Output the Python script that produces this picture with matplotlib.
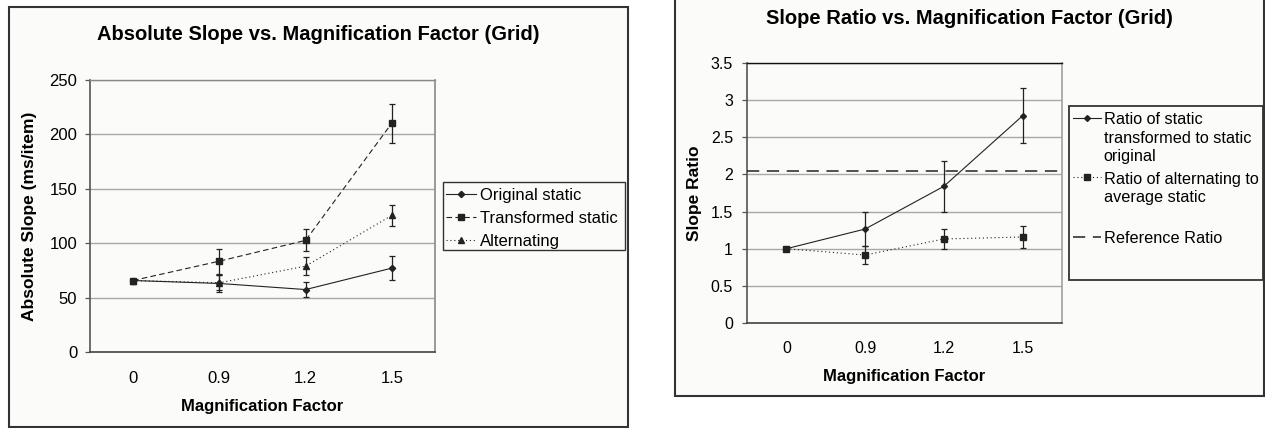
import matplotlib
matplotlib.use("Agg")
import matplotlib.pyplot as plt
from matplotlib.patches import Rectangle

plt.rcParams['font.family'] = ['Liberation Sans', 'DejaVu Sans']

# ---------------- data ----------------
x_labels = ['0', '0.9', '1.2', '1.5']

orig_static = [65.7, 63.0, 57.4, 77.1]
orig_err = [0, 7.8, 6.7, 10.8]
trans_static = [65.7, 83.5, 102.6, 210.4]
trans_err = [0, 11.4, 10.0, 18.0]
alternating = [65.7, 63.6, 78.9, 125.6]
alt_err = [0, 7.0, 8.3, 9.6]

ratio_static = [1.0, 1.265, 1.84, 2.79]
ratio_static_err = [0, 0.235, 0.343, 0.372]
ratio_alt = [1.0, 0.915, 1.131, 1.158]
ratio_alt_err = [0, 0.119, 0.139, 0.142]
reference_ratio = 2.05

# ---------------- layout ----------------
W, H = 1265, 428
fig = plt.figure(figsize=(W / 100, H / 100), dpi=100)
fig.patch.set_facecolor('white')

BG = '#fbfbf9'
DARK = '#222222'


def fx(px):
    return px / W


def fy(py):
    return 1 - py / H


def box(x0, y0, x1, y1, lw=1.5, ec='#333333', fc=BG, z=-1):
    r = Rectangle((fx(x0), fy(y1)), fx(x1) - fx(x0), fy(y0) - fy(y1),
                  transform=fig.transFigure, facecolor=fc, edgecolor=ec,
                  linewidth=lw, zorder=z)
    fig.patches.append(r)


# chart areas
box(9, 7, 628, 427)
box(675, -5, 1264, 396)

xpos = [0.5, 1.5, 2.5, 3.5]


def style_axes(ax, top_color, right_color, ticksize):
    ax.set_facecolor(BG)
    ax.set_xlim(0, 4)
    ax.set_xticks(xpos)
    ax.set_xticklabels(x_labels)
    ax.tick_params(axis='x', length=0, labelsize=ticksize)
    ax.tick_params(axis='y', direction='out', length=3.6, width=0.9,
                   labelsize=ticksize, pad=6, color='#555555')
    ax.grid(axis='y', color='#a8a8a8', linewidth=1.0)
    ax.set_axisbelow(True)
    ax.spines['left'].set_color('#555555')
    ax.spines['bottom'].set_color('#444444')
    ax.spines['left'].set_linewidth(1.2)
    ax.spines['bottom'].set_linewidth(1.2)
    ax.spines['top'].set_color(top_color)
    ax.spines['right'].set_color(right_color)
    ax.spines['top'].set_linewidth(1.0)
    ax.spines['right'].set_linewidth(1.2)


# ---------------- left chart ----------------
ax1 = fig.add_axes([fx(90), fy(352), fx(435) - fx(90), fy(80) - fy(352)])
style_axes(ax1, '#8a8a8a', '#8a8a8a', 12)
ax1.set_ylim(0, 250)
ax1.set_yticks([0, 50, 100, 150, 200, 250])
ax1.tick_params(axis='x', pad=13.5)
ax1.tick_params(axis='y', pad=5.5)

eb = dict(fmt='none', ecolor=DARK, elinewidth=0.9, capsize=2.2, capthick=0.9, zorder=3)
ax1.errorbar(xpos, orig_static, yerr=orig_err, **eb)
ax1.errorbar(xpos, trans_static, yerr=trans_err, **eb)
ax1.errorbar(xpos, alternating, yerr=alt_err, **eb)

l1, = ax1.plot(xpos, orig_static, color=DARK, lw=0.8, marker='D', ms=3.2,
               label='Original static', zorder=4)
l2, = ax1.plot(xpos, trans_static, color=DARK, lw=0.8, marker='s', ms=4.5,
               dashes=(5, 3), label='Transformed static', zorder=4)
l3, = ax1.plot(xpos, alternating, color=DARK, lw=0.8, marker='^', ms=3.8,
               dashes=(1, 2.5), label='Alternating', zorder=4)

ax1.set_ylabel('Absolute Slope (ms/item)', fontsize=12.5, fontweight='bold', va='center')
ax1.yaxis.set_label_coords((30 - 90) / 345, 0.5)
ax1.set_xlabel('Magnification Factor', fontsize=12, fontweight='bold', va='center')
ax1.xaxis.set_label_coords(0.5, (352 - 407) / 272)

fig.text(fx(318), fy(35), 'Absolute Slope vs. Magnification Factor (Grid)',
         ha='center', va='center', fontsize=14.5, fontweight='bold')

box(443, 182, 625, 250, lw=1.0, ec='#333333', z=5)
leg1 = fig.legend(handles=[l1, l2, l3], loc='upper left',
                  bbox_to_anchor=(fx(446), fy(188)), bbox_transform=fig.transFigure,
                  frameon=False, borderpad=0, borderaxespad=0, fontsize=12,
                  handlelength=1.8, handletextpad=0.25, labelspacing=0.47)
leg1.set_zorder(6)

# ---------------- right chart ----------------
ax2 = fig.add_axes([fx(747), fy(323), fx(1062) - fx(747), fy(63) - fy(323)])
style_axes(ax2, '#111111', '#a0a0a0', 11.5)
ax2.set_ylim(0, 3.5)
ax2.set_yticks([0, 0.5, 1, 1.5, 2, 2.5, 3, 3.5])
ax2.set_yticklabels(['0', '0.5', '1', '1.5', '2', '2.5', '3', '3.5'])
ax2.tick_params(axis='x', pad=13)
ax2.tick_params(axis='y', pad=6.5)

ax2.errorbar(xpos, ratio_static, yerr=ratio_static_err, **eb)
ax2.errorbar(xpos, ratio_alt, yerr=ratio_alt_err, **eb)

r1, = ax2.plot(xpos, ratio_static, color=DARK, lw=0.8, marker='D', ms=3.0,
               label='Ratio of static\ntransformed to static\noriginal', zorder=4)
r2, = ax2.plot(xpos, ratio_alt, color=DARK, lw=0.8, marker='s', ms=4.2,
               dashes=(1, 2.5), label='Ratio of alternating to\naverage static\n', zorder=4)
r3 = ax2.axhline(reference_ratio, color=DARK, lw=1.1, dashes=(8, 5),
                 label='Reference Ratio', zorder=4)

ax2.set_ylabel('Slope Ratio', fontsize=12.5, fontweight='bold', va='center')
ax2.yaxis.set_label_coords((695 - 747) / 315, 0.5)
ax2.set_xlabel('Magnification Factor', fontsize=12, fontweight='bold', va='center')
ax2.xaxis.set_label_coords(0.5, (323 - 376) / 260)

fig.text(fx(969), fy(19), 'Slope Ratio vs. Magnification Factor (Grid)',
         ha='center', va='center', fontsize=14.5, fontweight='bold')

box(1069, 106, 1263, 280, lw=1.3, ec='#333333', z=5)
leg2 = fig.legend(handles=[r1, r2, r3], loc='upper left',
                  bbox_to_anchor=(fx(1073), fy(112)), bbox_transform=fig.transFigure,
                  frameon=False, borderpad=0, borderaxespad=0, fontsize=11.7,
                  handlelength=1.7, handletextpad=0.2, labelspacing=0.45)
leg2.set_zorder(6)
for t in leg2.get_texts():
    t.set_linespacing(1.3)

# align legend handles with the first line of multi-line labels
for col in leg2._legend_handle_box.get_children():
    for hp in col.get_children():
        hp.align = 'top'

fig.savefig('out.png', dpi=100, facecolor='white')
